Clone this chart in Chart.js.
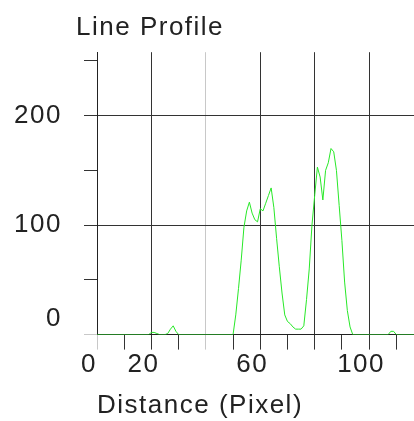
<!DOCTYPE html>
<html>
<head>
<meta charset="utf-8">
<title>Line Profile</title>
<script src="https://cdn.jsdelivr.net/npm/chart.js@4.4.0/dist/chart.umd.min.js"></script>
<style>
  html, body { margin: 0; background: #fff; }
  #wrap { width: 414px; height: 421px; position: relative; }
</style>
</head>
<body>
<div id="wrap"><canvas id="chart-profile"></canvas></div>
<script>
(() => {
  "use strict";

  // profile samples (distance in pixels -> intensity), flat stretches kept sparse
  const distance = [
    0, 19, 20, 21, 22, 23, 25, 26, 27, 28, 29, 30,
    50, 51, 52, 53, 54, 55, 56, 57, 58, 59, 60, 61, 62, 63, 64, 65, 66, 67, 68, 69,
    70, 71, 72, 73, 74, 75, 76, 77, 78, 79, 80, 81, 82, 83, 84, 85, 86, 87, 88, 89,
    90, 91, 92, 93, 94, 107, 108, 109, 110, 117,
  ];
  const intensity = [
    0, 0, 2, 2, 1, 0, 0, 1, 5, 8, 3, 0,
    0, 18, 42, 68, 98, 113, 121, 111, 105, 103, 115, 113, 120, 127, 134, 116, 88, 62, 38, 18,
    12, 10, 7, 5, 5, 5, 8, 32, 60, 100, 127, 153, 144, 123, 150, 157, 170, 167, 150, 118,
    86, 48, 22, 7, 0, 0, 3, 3, 0, 0,
  ];

  const xTicks = [0, 10, 20, 30, 40, 50, 60, 70, 80, 90, 100, 110];
  const xTickLabels = [0, 20, 60, 100];
  const xGridDark = [20, 60, 80, 100];
  const xGridLight = [0, 40];

  const yTicks = [0, 50, 100, 150, 200, 250];
  const yTickLabels = [0, 100, 200];
  const yGridDark = [100, 200];

  const INK = "#222";
  const DARK = "#333";
  const LIGHT = "#c8c8c8";
  const NONE = "rgba(0,0,0,0)";
  const FONT = "'Liberation Sans', Arial, sans-serif";

  // wide-ish lettering like the original; set on the base context state
  const spacing = {
    id: "spacing",
    beforeUpdate(chart) { chart.ctx.letterSpacing = "1.5px"; },
    beforeDraw(chart) { chart.ctx.letterSpacing = "1.5px"; },
    // title starts a little left of the plot, not at the canvas edge
    afterLayout(chart) { if (chart.titleBlock) chart.titleBlock.left = 76; },
  };

  const points = distance.map((d, i) => ({ x: d, y: intensity[i] }));

  new Chart(document.getElementById("chart-profile"), {
    type: "line",
    data: {
      datasets: [{
        label: "Profile",
        data: points,
        borderColor: "rgb(40,232,40)",
        borderWidth: 1,
        pointRadius: 0,
        tension: 0,
        fill: false,
      }],
    },
    options: {
      responsive: true,
      maintainAspectRatio: false,
      animation: false,
      events: [],
      layout: { padding: 0 },
      plugins: {
        legend: { display: false },
        tooltip: { enabled: false },
        title: {
          display: true,
          text: "Line Profile",
          align: "start",
          color: INK,
          font: { family: FONT, size: 26, weight: "normal" },
          padding: { top: 12, bottom: 9 },
        },
      },
      scales: {
        x: {
          type: "linear",
          min: 0,
          max: 116.5,
          afterBuildTicks: (s) => { s.ticks = xTicks.map((v) => ({ value: v })); },
          border: { color: INK, width: 1 },
          grid: {
            color: (c) => xGridDark.includes(c.tick.value) ? DARK : xGridLight.includes(c.tick.value) ? LIGHT : NONE,
            tickColor: (c) => xGridLight.includes(c.tick.value) ? LIGHT : DARK,
            tickLength: 15,
            lineWidth: 1,
          },
          ticks: {
            autoSkip: false,
            maxRotation: 0,
            padding: 0,
            labelOffset: -8,
            color: INK,
            font: { family: FONT, size: 26 },
            callback: (v) => xTickLabels.includes(v) ? String(v) : "",
          },
          title: {
            display: true,
            text: "Distance (Pixel)",
            align: "start",
            color: INK,
            font: { family: FONT, size: 26 },
            padding: { top: 9, bottom: 0 },
          },
        },
        y: {
          min: 0,
          max: 258,
          afterBuildTicks: (s) => { s.ticks = yTicks.map((v) => ({ value: v })); },
          afterFit: (s) => { s.width = 97; },
          border: { color: INK, width: 1 },
          grid: {
            color: (c) => yGridDark.includes(c.tick.value) ? DARK : NONE,
            tickColor: (c) => c.tick.value === 0 ? LIGHT : DARK,
            tickLength: 13,
            lineWidth: 1,
          },
          ticks: {
            autoSkip: false,
            padding: 22,
            color: INK,
            font: { family: FONT, size: 26 },
            // the zero label sits above the baseline in the original
            callback: (v) => v === 0 ? ["0", ""] : yTickLabels.includes(v) ? String(v) : "",
          },
        },
      },
    },
    plugins: [spacing],
  });
})();
</script>
</body>
</html>
